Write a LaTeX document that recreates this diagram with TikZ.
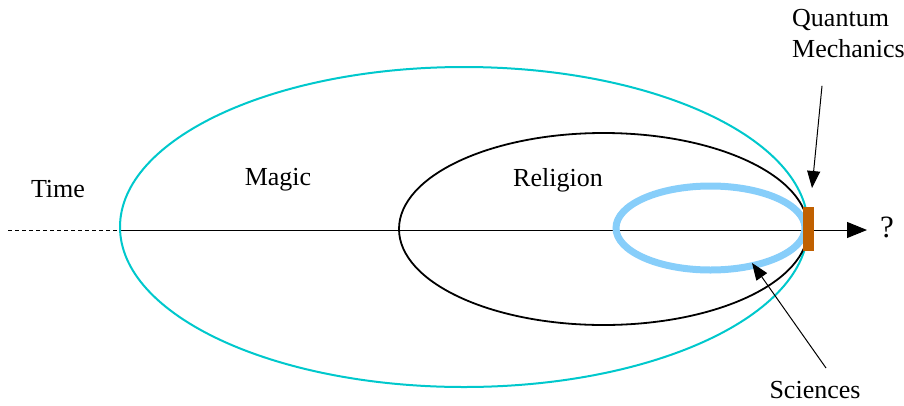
\documentclass[tikz,border=0pt]{standalone}
\usepackage{fontspec}
\setmainfont{Liberation Serif}
\usetikzlibrary{arrows.meta}

\definecolor{magiccyan}{HTML}{00C8CC}
\definecolor{sciblue}{HTML}{87CEFA}
\definecolor{qmorange}{HTML}{C06000}

\tikzset{
  lbl/.style={font=\fontsize{26}{31}\selectfont, inner sep=0pt},
  pointer/.style={-{Triangle[length=17pt,width=13pt]}, line width=1pt},
}

\begin{document}
\begin{tikzpicture}[x=1pt, y=-1pt]
  \useasboundingbox (0,0) rectangle (904,405);
  % time axis
  \coordinate (past) at (8,230);
  \coordinate (start) at (120,230);
  \coordinate (future) at (867,230);
  \draw[dash pattern=on 4pt off 3pt, line width=0.9pt] (past) -- (start);
  \draw[line width=1pt, -{Triangle[length=20pt,width=16pt]}] (start) -- (future);
  \node[lbl, font=\fontsize{31}{36}\selectfont, anchor=west] (unknown) at (880,227) {?};
  % the three eras
  \draw[magiccyan, line width=2pt] (464,227) ellipse (344 and 160);
  \draw[black, line width=1.8pt] (603.5,229) ellipse (204.5 and 96);
  \draw[sciblue, line width=7pt] (710.5,228) ellipse (94.5 and 42);
  % quantum mechanics
  \fill[qmorange] (803,207) rectangle (814,251);
  % labels
  \node[lbl] (time) at (58,189) {Time};
  \node[lbl] (magic) at (278,180) {Magic};
  \node[lbl] (religion) at (558,180) {Religion};
  \node[lbl, align=left, anchor=north west] (qm) at (792,9) {Quantum\\Mechanics};
  \node[lbl] (sci) at (815,390) {Sciences};
  % pointers
  \coordinate (qmtip) at (812,188);
  \coordinate (scitip) at (752,263);
  \draw[pointer] ([yshift=-28pt]qm.south -| 822,0) -- (qmtip);
  \draw[pointer] (826,368) -- (scitip);
\end{tikzpicture}
\end{document}
